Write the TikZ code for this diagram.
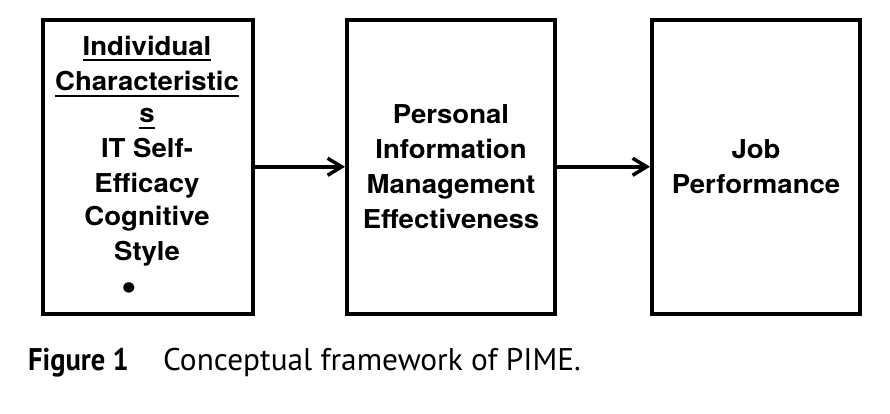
\documentclass[tikz,border=0pt]{standalone}
\usepackage{graphicx}
\usepackage{fontspec}
\setmainfont{TeX Gyre Heros}[FakeStretch=1.06]
\newfontfamily\capfont{PT Sans}
\usetikzlibrary{arrows.meta}
\newcommand\ulword[1]{\setbox0\hbox{#1}\rlap{\smash{\rule[-6pt]{\wd0}{2pt}}}\box0}
\begin{document}
\begin{tikzpicture}[x=1pt,y=-1pt,
  box/.style={draw, line width=4pt, minimum height=294.5pt, minimum width=208pt, inner sep=0pt,
    font=\bfseries\fontsize{26}{35}\selectfont, align=center},
  txt/.style={inner sep=0pt, font=\bfseries\fontsize{26}{35}\selectfont, align=center},
  arr/.style={line width=3.5pt, -{Straight Barb[length=14pt,width=17pt]}},
  captext/.style={inner sep=0pt, font=\capfont\fontsize{31.3}{36}\selectfont}]
\useasboundingbox (0,0) rectangle (890,413);
\node[box, minimum width=209.5pt] (b1) at (147.75,166.75) {};
\node[txt, anchor=north] (t1) at (147,35.7) {\ulword{Individual}\\[0.7pt] \ulword{Characteristic}\\[-3.3pt] \ulword{s}\\ IT Self-\\ Efficacy\\[-1.7pt] Cognitive\\ Style\\ \raisebox{-5pt}{\fontsize{42}{35}\selectfont\textbullet}\hspace*{36pt}};
\node[box] (b2) at (451,166.75) {Personal\\ Information\\ Management\\ Effectiveness};
\node[box] (b3) at (756,166.75) {Job\\ Performance};
\draw[arr] (b1.east) -- (b2.west);
\draw[arr] (b2.east) -- (b3.west);
\node[captext, anchor=base west] (c1) at (28,370) {\scalebox{0.91}[1]{\bfseries Figure 1}};
\node[captext, anchor=base west] (c2) at (163,370) {Conceptual framework of PIME.};
\end{tikzpicture}
\end{document}
